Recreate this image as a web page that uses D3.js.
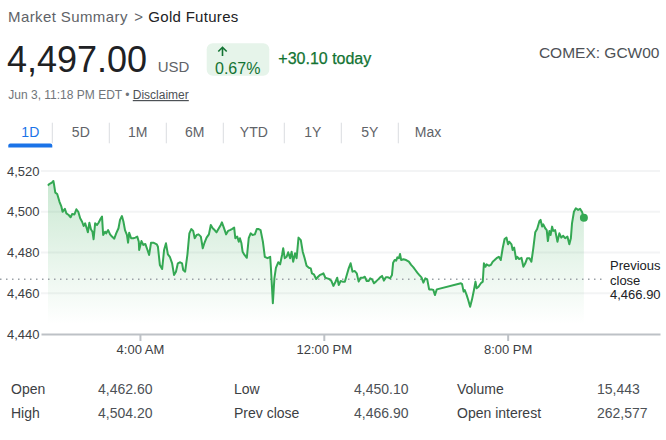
<!DOCTYPE html>
<html>
<head>
<meta charset="utf-8">
<script src="https://cdn.jsdelivr.net/npm/d3@7"></script>
<style>
  body { margin: 0; background: #fff; }
  svg { display: block; font-family: "Liberation Sans", Arial, sans-serif; }
</style>
</head>
<body>
<svg id="chart" width="666" height="440"></svg>
<script>
// minutes since midnight (EDT)
const times = [
  0,3,10,14,16,19,24,30,35,38,44,48,54,59,63,69,74,79,84,89,93,97,101,104,108,112,116,119,123,128,
  132,138,141,144,149,152,157,162,167,173,178,184,188,193,197,201,206,209,212,217,223,228,233,237,238,244,249,254,259,264,269,275,
  284,287,292,298,303,308,313,318,324,329,334,339,345,350,353,358,364,369,374,379,383,388,393,399,404,409,414,420,425,430,
  435,440,446,451,454,459,465,470,475,480,486,489,494,498,501,505,508,513,519,524,529,534,540,545,550,555,561,566,
  573,580,582,587,591,595,601,606,611,614,618,623,627,632,636,640,645,649,654,660,665,670,675,681,686,689,694,700,705,710,
  715,719,724,729,734,740,745,750,755,759,764,769,775,780,785,790,795,801,806,811,816,822,827,832,837,
  841,846,851,856,862,867,872,877,882,888,893,898,901,905,909,912,916,919,922,928,935,942,948,954,959,964,969,975,980,985,
  990,995,1001,1006,1010,1015,
  1078,1081,1085,1088,1093,1097,1102,1107,1112,1116,1119,1124,1130,1135,
  1138,1142,1145,1151,1156,1161,1166,1171,1177,1182,1187,1192,1197,1201,1204,1210,1213,1217,1222,1225,
  1230,1236,1241,1246,1251,1257,1262,1267,1272,1277,1283,1286,1290,1293,1298,1302,1305,1309,1312,1316,
  1319,1324,1330,1335,1340,1345,1350,1356,1361,1365,1368,1373,1378,1384,1389,1394,1399
];
const prices = [
  4512.8,4513.6,4514.3,4515.1,4513.1,4509.4,4508.7,4504.9,4502.5,4500.0,4501.4,4499.2,4498.4,4497.3,4498.9,4498.7,4501.2,4500.0,4496.8,4495.1,
  4493.0,4494.3,4491.9,4489.9,4494.6,4491.4,4490.2,4486.5,4494.3,4493.5,4494.6,4496.8,4497.6,4488.6,4490.2,4489.4,4491.0,4488.9,4487.8,4486.8,
  4489.4,4491.9,4496.0,4497.9,4495.1,4491.0,4488.6,4484.8,4489.7,4487.0,4487.0,4487.3,4487.8,4485.3,4481.2,4485.6,4483.7,4484.2,4481.6,4478.8,
  4484.8,4484.8,
  4484.0,4482.8,4473.9,4471.9,4481.2,4484.5,4479.1,4477.9,4474.7,4469.0,4470.6,4474.7,4475.2,4474.7,4471.4,4470.6,4479.1,4489.4,4491.5,4490.6,
  4487.0,4488.6,4488.9,4487.8,4482.1,4485.0,4487.3,4488.9,4493.5,4491.9,4491.0,4489.9,4491.9,4493.5,4494.8,4492.2,4488.9,4490.6,4491.0,4491.5,
  4492.2,4487.0,4487.8,4485.3,4487.0,4484.5,4480.4,4478.8,4477.4,4487.0,4489.4,4488.6,4488.9,4491.5,4491.5,4491.0,4485.3,4477.9,
  4477.2,4477.9,4472.2,4455.1,4467.3,4472.5,4475.2,4474.2,4478.8,4482.1,4477.2,4477.9,4480.1,4477.2,4480.4,4475.5,4479.6,4477.2,4487.3,4486.1,
  4480.4,4477.2,4473.5,4472.5,4472.2,4469.8,4469.3,4467.0,4468.1,4469.0,4469.3,4469.8,4467.6,4467.3,4467.0,4466.0,4463.6,4465.4,4467.6,4464.0,
  4466.0,4465.7,4465.7,4469.0,4472.2,4474.7,4470.6,4470.9,4469.8,4465.7,4467.6,4467.6,4468.1,4466.0,4466.0,
  4467.3,4466.8,4464.9,4465.7,4466.8,4467.8,4468.5,4466.2,4467.8,4467.8,4467.3,4469.0,4475.0,4476.3,4476.0,4477.6,4477.2,4479.3,4476.3,4476.7,
  4476.3,4475.5,4473.9,4472.7,4471.4,4470.1,4469.0,4467.8,4465.2,4467.3,4466.8,4461.9,4461.9,4461.6,4459.1,4461.9,
  4464.9,4464.5,4460.8,4461.6,4459.1,4456.7,4453.4,4457.0,4461.6,4465.7,4462.4,4463.2,4464.9,4465.7,
  4474.7,4473.0,4474.2,4473.5,4473.9,4475.5,4476.3,4477.2,4477.9,4476.3,4482.1,4486.6,4487.3,4484.0,4485.3,4484.0,4481.2,4482.4,4476.8,4477.9,
  4476.8,4477.4,4473.0,4474.7,4477.2,4477.2,4475.5,4482.1,4489.9,4491.5,4495.5,4496.0,4492.7,4493.8,4491.9,4491.0,4485.6,4490.6,4488.6,4492.7,
  4490.6,4491.0,4485.3,4489.4,4487.3,4488.2,4487.0,4487.8,4484.0,4487.0,4494.3,4500.0,4501.7,4500.9,4501.4,4500.0,4497.0
];
const prevClose = 4466.90;
const yTicks = [4440, 4460, 4480, 4500, 4520];
const xTicks = [240, 720, 1200];
const xTickLabels = ["4:00 AM", "12:00 PM", "8:00 PM"];
const tabs = ["1D", "5D", "1M", "6M", "YTD", "1Y", "5Y", "Max"];
const statLabels = ["Open", "High", "Low", "Prev close", "Volume", "Open interest"];
const statValues = ["4,462.60", "4,504.20", "4,450.10", "4,466.90", "15,443", "262,577"];

const GREEN = "#34a853";
const svg = d3.select("#chart");

// ---- header ----
svg.append("text").attr("x", 8).attr("y", 21.7).attr("font-size", 15).attr("letter-spacing", 0.4)
  .attr("fill", "#5f6368").text("Market Summary");
svg.append("text").attr("x", 134.2).attr("y", 21.7).attr("font-size", 15)
  .attr("fill", "#5f6368").text(">");
svg.append("text").attr("x", 148.3).attr("y", 21.7).attr("font-size", 15).attr("letter-spacing", 0.3)
  .attr("fill", "#202124").text("Gold Futures");

svg.append("text").attr("x", 7).attr("y", 71.5).attr("font-size", 36)
  .attr("fill", "#202124").text("4,497.00");
svg.append("text").attr("x", 157.7).attr("y", 71.5).attr("font-size", 15)
  .attr("fill", "#5f6368").text("USD");

svg.append("rect").attr("x", 206.7).attr("y", 43.3).attr("width", 62.6).attr("height", 32.4)
  .attr("rx", 6).attr("fill", "#e6f4ea");
svg.append("path").attr("d", "M222.5,56V47.5M218.3,51.5L222.5,47.3L226.7,51.5")
  .attr("fill", "none").attr("stroke", "#137333").attr("stroke-width", 1.6);
svg.append("text").attr("x", 215).attr("y", 74).attr("font-size", 16)
  .attr("fill", "#137333").text("0.67%");
svg.append("text").attr("x", 278.3).attr("y", 64.3).attr("font-size", 16)
  .attr("fill", "#137333").attr("stroke", "#137333").attr("stroke-width", 0.25).text("+30.10 today");

svg.append("text").attr("x", 659.5).attr("y", 58.3).attr("font-size", 15.5)
  .attr("text-anchor", "end").attr("fill", "#4d5156").text("COMEX: GCW00");

const stamp = svg.append("text").attr("x", 8.3).attr("y", 99).attr("font-size", 12).attr("fill", "#70757a");
stamp.append("tspan").text("Jun 3, 11:18 PM EDT \u2022 ");
stamp.append("tspan").attr("fill", "#4d5156").style("text-decoration", "underline").text("Disclaimer");

// ---- range tabs ----
let tx = 8.3;
tabs.forEach((t, i) => {
  const lbl = svg.append("text").attr("y", 137.3).attr("font-size", 14)
    .attr("text-anchor", "middle").attr("fill", i === 0 ? "#1a73e8" : "#5f6368").text(t);
  const w = lbl.node().getComputedTextLength();
  const tw = i === 0 ? 44 : Math.max(57, w + 33);
  lbl.attr("x", tx + tw / 2);
  if (i === 0) {
    svg.append("path")
      .attr("d", `M${tx},147.5V145.5Q${tx},143.5 ${tx + 2},143.5H${tx + tw - 2}Q${tx + tw},143.5 ${tx + tw},145.5V147.5Z`)
      .attr("fill", "#1a73e8");
  }
  tx += tw;
  if (i < tabs.length - 1) {
    svg.append("line").attr("x1", tx).attr("x2", tx).attr("y1", 122.7).attr("y2", 143.3)
      .attr("stroke", "#dadce0").attr("stroke-width", 1);
  }
});

// ---- chart ----
const x = d3.scaleLinear().domain([-18.3, 1597.7]).range([41, 660]);
const y = d3.scaleLinear().domain([4440, 4520]).range([334, 171]);
const data = times.map((t, i) => ({ t, p: prices[i] }));

const defs = svg.append("defs");
const grad = defs.append("linearGradient").attr("id", "fillGrad")
  .attr("gradientUnits", "userSpaceOnUse").attr("x1", 0).attr("x2", 0)
  .attr("y1", y(4515)).attr("y2", y(4445));
grad.append("stop").attr("offset", 0).attr("stop-color", GREEN).attr("stop-opacity", 0.26);
grad.append("stop").attr("offset", 1).attr("stop-color", GREEN).attr("stop-opacity", 0);

// grid
svg.append("g").selectAll("line").data(yTicks.slice(1)).join("line")
  .attr("x1", x.range()[0]).attr("x2", x.range()[1])
  .attr("y1", d => y(d)).attr("y2", d => y(d))
  .attr("stroke", "#f3f4f5").attr("stroke-width", 2);

// area + line
svg.append("path").datum(data)
  .attr("d", d3.area().x(d => x(d.t)).y0(y(yTicks[0])).y1(d => y(d.p)))
  .attr("fill", "url(#fillGrad)");

// previous close dotted line
svg.append("line").attr("x1", 0).attr("x2", 605)
  .attr("y1", y(prevClose)).attr("y2", y(prevClose))
  .attr("stroke", "#9aa0a6").attr("stroke-width", 1.5).attr("stroke-dasharray", "1.5 4.5");

svg.append("path").datum(data)
  .attr("d", d3.line().x(d => x(d.t)).y(d => y(d.p)))
  .attr("fill", "none").attr("stroke", GREEN).attr("stroke-width", 2)
  .attr("stroke-linejoin", "round");

const last = data[data.length - 1];
svg.append("circle").attr("cx", x(last.t)).attr("cy", y(last.p)).attr("r", 4).attr("fill", GREEN);

// previous close label
const pc = svg.append("text").attr("x", 610).attr("font-size", 13).attr("fill", "#202124");
["Previous", "close", d3.format(",.2f")(prevClose)].forEach((s, i) => {
  pc.append("tspan").attr("x", 610).attr("y", y(prevClose) - 9.3 + i * 14.8).text(s);
});

// x axis
const xAxis = svg.append("g").attr("transform", `translate(0,${y(yTicks[0])})`)
  .call(d3.axisBottom(x).tickValues(xTicks).tickFormat((d, i) => xTickLabels[i])
    .tickSize(7).tickSizeOuter(0).tickPadding(3.3));
xAxis.select(".domain").attr("stroke", "#bdc1c6").attr("stroke-width", 2);
xAxis.selectAll(".tick line").attr("stroke", "#bdc1c6").attr("stroke-width", 2);
xAxis.selectAll(".tick text").attr("font-size", 13).attr("fill", "#3c4043").attr("font-family", null);

// y axis
const yAxis = svg.append("g").attr("transform", "translate(39.5,0)")
  .call(d3.axisLeft(y).tickValues(yTicks).tickFormat(d3.format(",")).tickSize(0).tickPadding(0));
yAxis.select(".domain").remove();
yAxis.selectAll(".tick text").attr("font-size", 13).attr("fill", "#3c4043").attr("font-family", null);

// ---- stats ----
const colLabelX = [11, 234, 457];
const colValueX = [98, 354, 597];
const rowY = [393.5, 417.5];
statLabels.forEach((s, i) => {
  const c = Math.floor(i / 2), r = i % 2;
  svg.append("text").attr("x", colLabelX[c]).attr("y", rowY[r]).attr("font-size", 14)
    .attr("fill", "#3c4043").text(s);
  svg.append("text").attr("x", colValueX[c]).attr("y", rowY[r]).attr("font-size", 14)
    .attr("fill", "#4d5156").text(statValues[i]);
});
</script>
</body>
</html>
